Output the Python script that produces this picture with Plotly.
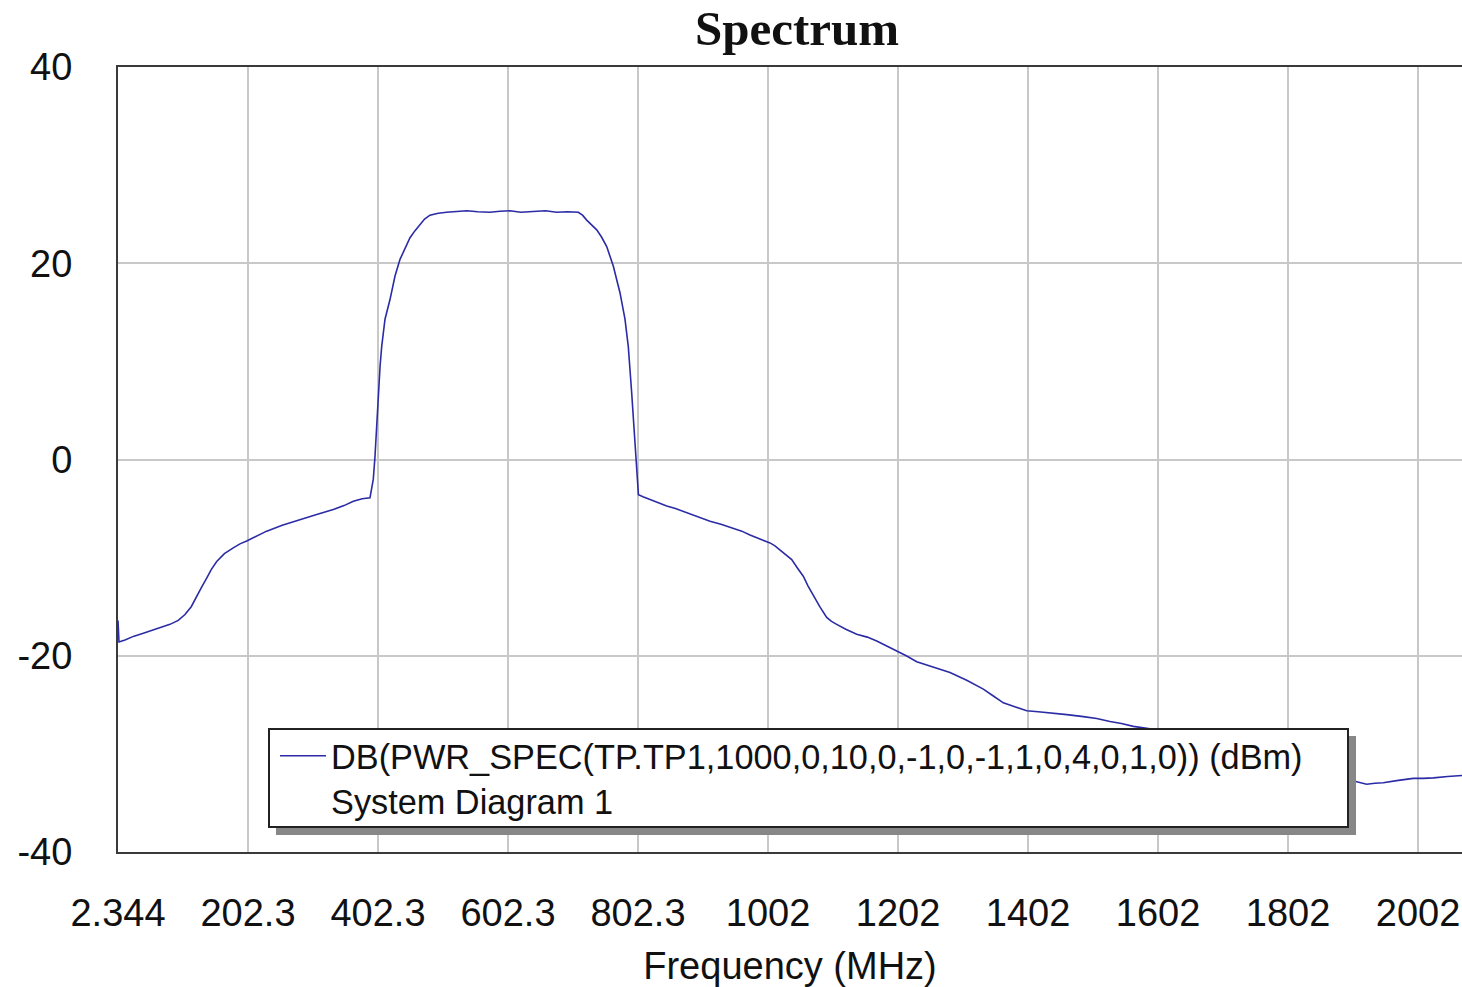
import plotly.graph_objects as go

# Power spectrum samples (frequency in MHz, level in dBm)
freq_mhz = [
    2.344, 3.9, 13.1, 27.0, 41.3, 60.0, 82.3, 95.0, 105.4, 115.0, 123.4, 131.0,
    138.8, 146.0, 154.2, 166.0, 179.7, 190.0, 200.3, 215.0, 231.1, 255.0,
    282.3, 308.0, 333.6, 350.0, 364.4, 378.0, 390.0, 395.1, 397.7, 400.3,
    402.8, 405.5, 408.0, 413.1, 420.8, 428.5, 436.2, 444.0, 451.6, 459.0,
    467.0, 474.0, 482.3, 495.0, 508.0, 522.0, 538.8, 556.0, 574.6, 590.0,
    605.4, 622.0, 640.8, 660.0, 677.3, 694.0, 710.5, 717.0, 723.4, 731.0,
    738.8, 746.0, 754.2, 764.4, 774.6, 782.3, 787.4, 792.6, 797.7, 801.2,
    803.0, 810.0, 820.8, 833.0, 846.5, 860.0, 872.0, 892.0, 913.1, 930.0,
    949.0, 962.0, 974.6, 990.0, 1005.4, 1013.0, 1020.8, 1030.0, 1038.8,
    1047.0, 1056.6, 1064.0, 1072.0, 1082.0, 1092.6, 1100.0, 1108.0, 1122.0,
    1138.8, 1155.0, 1169.6, 1185.0, 1200.3, 1215.0, 1231.1, 1255.0, 1282.3,
    1308.0, 1333.6, 1349.0, 1364.4, 1382.0, 1400.4, 1418.0, 1436.2, 1462.0,
    1487.5, 1508.0, 1528.5, 1546.0, 1564.4, 1585.0, 1605.4, 1667.0, 1744.0,
    1821.0, 1882.0, 1907.9, 1923.3, 1936.0, 1948.9, 1972.0, 1995.0, 2010.0,
    2026.0, 2048.0, 2070.0,
]
level_dbm = [
    -16.4, -18.6, -18.4, -18.0, -17.7, -17.3, -16.8, -16.4, -15.8, -15.0,
    -13.9, -13.0, -12.1, -11.2, -10.4, -9.6, -9.0, -8.6, -8.3, -7.8,
    -7.3, -6.7, -6.1, -5.6, -5.1, -4.7, -4.25, -4.0, -3.9, -2.0,
    0.3, 3.8, 6.8, 9.5, 11.5, 14.3, 16.3, 18.7, 20.4, 21.6,
    22.6, 23.3, 23.9, 24.5, 24.9, 25.1, 25.2, 25.3, 25.35, 25.25,
    25.2, 25.3, 25.35, 25.2, 25.3, 25.35, 25.2, 25.25, 25.2, 24.9,
    24.4, 23.9, 23.4, 22.7, 21.7, 19.7, 17.0, 14.3, 11.5, 6.8,
    1.4, -2.0, -3.6, -3.8, -4.1, -4.4, -4.75, -5.0, -5.3, -5.8,
    -6.3, -6.6, -7.0, -7.3, -7.7, -8.1, -8.5, -8.8, -9.2, -9.7,
    -10.2, -11.0, -11.9, -12.9, -13.9, -15.0, -16.1, -16.5, -16.8, -17.3,
    -17.8, -18.1, -18.5, -19.0, -19.5, -20.0, -20.6, -21.1, -21.7, -22.5,
    -23.4, -24.1, -24.8, -25.2, -25.6, -25.7, -25.8, -26.0, -26.2, -26.4,
    -26.7, -26.9, -27.2, -27.4, -27.6, -28.6, -30.0, -31.4, -32.4, -32.8,
    -33.1, -33.0, -32.95, -32.7, -32.5, -32.5, -32.45, -32.3, -32.2,
]

x_tick_vals = [2.344, 202.344, 402.344, 602.344, 802.344, 1002.344,
               1202.344, 1402.344, 1602.344, 1802.344, 2002.344]
x_tick_text = ["2.344", "202.3", "402.3", "602.3", "802.3", "1002",
               "1202", "1402", "1602", "1802", "2002"]
y_tick_vals = [-40, -20, 0, 20, 40]
y_tick_text = ["-40", "-20", "0", "20", "40"]

trace_name = ("DB(PWR_SPEC(TP.TP1,1000,0,10,0,-1,0,-1,1,0,4,0,1,0)) (dBm)"
              "<br>System Diagram 1")

fig = go.Figure()
fig.add_trace(go.Scatter(
    x=freq_mhz, y=level_dbm, mode="lines", name=trace_name,
    line=dict(color="#2b2ba6", width=1.6),
    showlegend=True,
))

W, H = 1462, 987
L, R, T, B = 118, 0, 67, 135

# pixel -> paper conversion for the legend frame
pw, ph = W - L - R, H - T - B
def px_x(p):
    return (p - L) / pw
def px_y(p):
    return (H - B - p) / ph

# legend frame: grey drop shadow, then white box with dark border
fig.add_shape(type="rect", xref="paper", yref="paper",
              x0=px_x(276), x1=px_x(1356), y0=px_y(835), y1=px_y(736),
              fillcolor="#878787", line=dict(width=0), layer="above")
fig.add_shape(type="rect", xref="paper", yref="paper",
              x0=px_x(269), x1=px_x(1348), y0=px_y(827), y1=px_y(729),
              fillcolor="white", line=dict(color="#222222", width=2),
              layer="above")

fig.update_layout(
    width=W, height=H,
    margin=dict(l=L, r=R, t=T, b=B, pad=0),
    paper_bgcolor="white", plot_bgcolor="white",
    font=dict(family="Liberation Sans, Arial, sans-serif", color="#111111"),
    title=dict(text="<b>Spectrum</b>", xref="container", x=797 / W,
               yref="container", y=1 - 28 / H, xanchor="center", yanchor="middle",
               font=dict(family="Liberation Serif, Times New Roman, serif",
                         size=49, color="#111111")),
    xaxis=dict(
        range=[2.344, 2070.0], tickmode="array", tickvals=x_tick_vals,
        ticktext=x_tick_text, tickfont=dict(size=38), ticks="",
        ticklabelstandoff=26,
        showgrid=True, gridcolor="#c8c8c8", gridwidth=2,
        showline=True, linecolor="#3a3a3a", linewidth=2, mirror=True,
        zeroline=False,
        title=dict(text="Frequency (MHz)", font=dict(size=38), standoff=26),
    ),
    yaxis=dict(
        range=[-40, 40], tickmode="array", tickvals=y_tick_vals,
        ticktext=y_tick_text,
        tickfont=dict(size=38), ticks="", ticklabelstandoff=36,
        showgrid=True, gridcolor="#c8c8c8", gridwidth=2,
        showline=True, linecolor="#3a3a3a", linewidth=2, mirror=False,
        zeroline=False,
    ),
    legend=dict(
        x=px_x(275), y=px_y(727), xanchor="left", yanchor="top",
        bgcolor="rgba(0,0,0,0)", borderwidth=0,
        font=dict(size=34.3, color="#111111"), valign="top",
        itemwidth=46,
    ),
    showlegend=True,
)

fig.write_html("out.html")
